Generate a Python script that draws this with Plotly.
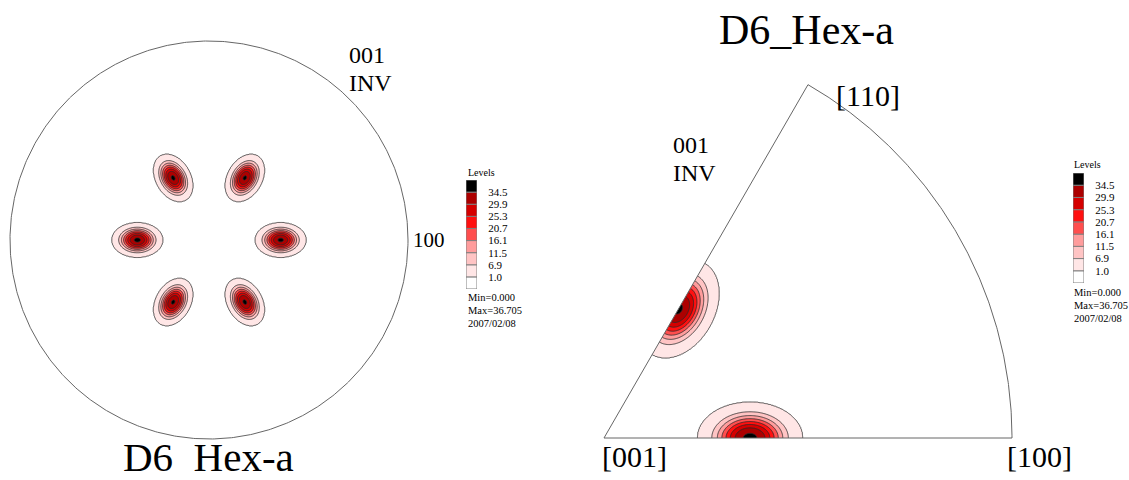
import numpy as np
import plotly.graph_objects as go

W, H = 1129, 480

# ---- data ----
level_values = [1.0, 6.9, 11.5, 16.1, 20.7, 25.3, 29.9, 34.5]
level_labels = ["1.0", "6.9", "11.5", "16.1", "20.7", "25.3", "29.9", "34.5"]
level_colors = ["#FFFFFF", "#FFE6E6", "#FFC4C4", "#FF9C9C", "#FF4E4E",
                "#FF1010", "#D50000", "#AC0000", "#000000"]
density_min = 0.000
density_max = 36.705
date_label = "2007/02/08"

# pole figure (left): peak directions (deg), radial position (fraction of radius), peak heights
pf_peak_angles = [0, 60, 120, 180, 240, 300]
pf_peak_radius = [0.36, 0.36, 0.36, 0.36, 0.36, 0.36]
pf_peak_height = [35.1, 34.9, 35.0, 35.3, 34.9, 35.0]
# inverse pole figure (right): peaks on the [001]-[100] and [001]-[110] edges
ipf_peak_angles = [0, 60]
ipf_peak_radius = [0.358, 0.365]
ipf_peak_height = [35.4, 35.0]
peak_sigma_radial = [0.054]
peak_sigma_tangential = [0.037]
peak_flatness = [1.2]

FONT = "Liberation Serif"


def density(X, Y, angles, radii, heights):
    Z = np.zeros_like(X)
    sr, st, p = peak_sigma_radial[0], peak_sigma_tangential[0], peak_flatness[0]
    for a_deg, r0, h in zip(angles, radii, heights):
        a = np.deg2rad(a_deg)
        cx, cy = r0 * np.cos(a), r0 * np.sin(a)
        dx, dy = X - cx, Y - cy
        dr = dx * np.cos(a) + dy * np.sin(a)
        dt = -dx * np.sin(a) + dy * np.cos(a)
        u = 0.5 * ((dr / sr) ** 2 + (dt / st) ** 2)
        Z += h * np.exp(-(u ** p))
    return Z


def to_level_index(Z):
    # map the uneven contour levels onto 1..8 so that plotly can use a uniform step
    xp = [0.0] + level_values + [density_max + 10]
    fp = list(range(len(level_values) + 1)) + [len(level_values) + (density_max + 10 - level_values[-1]) / 4.6]
    return np.round(np.interp(Z, xp, fp), 3)


colorscale = [[i / 8, c] for i, c in enumerate(level_colors)]
contour_style = dict(
    contours=dict(start=1, end=8, size=1, coloring="fill", showlines=True),
    colorscale=colorscale, showscale=False,
    line=dict(color="#2a2a2a", width=0.8, smoothing=1),
    hoverinfo="skip",
)

fig = go.Figure()

# ---- left: pole figure ----
gx = np.arange(-0.58, 0.5801, 0.004)
GX, GY = np.meshgrid(gx, gx)
Zl = to_level_index(density(GX, GY, pf_peak_angles, pf_peak_radius, pf_peak_height))
fig.add_trace(go.Contour(x=gx, y=gx, z=Zl, xaxis="x", yaxis="y", **contour_style))

th = np.linspace(0, 2 * np.pi, 721)
fig.add_trace(go.Scatter(x=np.cos(th), y=np.sin(th), mode="lines",
                         line=dict(color="#666666", width=1), hoverinfo="skip",
                         xaxis="x", yaxis="y"))

# ---- right: inverse pole figure sector ----
rx = np.arange(-0.06, 0.64, 0.002)
ry = np.arange(-0.1, 0.58, 0.002)
RX, RY = np.meshgrid(rx, ry)
Zr = to_level_index(density(RX, RY, ipf_peak_angles, ipf_peak_radius, ipf_peak_height))
fig.add_trace(go.Contour(x=rx, y=ry, z=Zr, xaxis="x2", yaxis="y2", **contour_style))

t60 = np.tan(np.deg2rad(60))
mask_x = [0, 0.95 / t60, -0.06, -0.06, 1.12, 1.12, 0]
mask_y = [0, 0.95, 0.95, -0.12, -0.12, 0, 0]
fig.add_trace(go.Scatter(x=mask_x, y=mask_y, mode="lines", fill="toself",
                         fillcolor="white", line=dict(width=0, color="white"),
                         hoverinfo="skip", xaxis="x2", yaxis="y2"))

arc = np.linspace(0, np.pi / 3, 200)
sx = np.concatenate([[0.0], np.cos(arc), [0.0]])
sy = np.concatenate([[0.0], np.sin(arc), [0.0]])
fig.add_trace(go.Scatter(x=sx, y=sy, mode="lines", line=dict(color="#666666", width=1),
                         hoverinfo="skip", xaxis="x2", yaxis="y2"))

# ---- level legends (stacked boxes) ----
box_heights = [1] * len(level_colors)
box_bases = list(np.cumsum([0] + box_heights[:-1]))
for xa, ya in (("x3", "y3"), ("x4", "y4")):
    fig.add_trace(go.Bar(x=[0] * len(level_colors), y=box_heights, base=box_bases,
                         width=1, marker=dict(color=level_colors, line=dict(color="#808080", width=1)),
                         hoverinfo="skip", xaxis=xa, yaxis=ya))


def xdom(p0, p1):
    return [p0 / W, p1 / W]


def ydom(ptop, pbot):
    return [1 - pbot / H, 1 - ptop / H]


hidden = dict(visible=False, fixedrange=True)
CXL, CYL, RL = 209, 240, 199
CXR, CYR, RR = 604, 438, 408

legend_axis = dict(range=[0, 9], side="right", tickmode="array",
                   tickvals=list(range(1, 9)), ticktext=level_labels,
                   ticks="outside", ticklen=8, tickcolor="rgba(0,0,0,0)",
                   tickfont=dict(family=FONT, size=11, color="black"),
                   showgrid=False, zeroline=False, showline=False, fixedrange=True)

fig.update_layout(
    width=W, height=H, margin=dict(l=0, r=0, t=0, b=0),
    paper_bgcolor="white", plot_bgcolor="white", showlegend=False,
    barmode="overlay",
    xaxis=dict(domain=xdom(CXL - 1.05 * RL, CXL + 1.05 * RL), range=[-1.05, 1.05], **hidden),
    yaxis=dict(domain=ydom(CYL - 1.2 * RL, CYL + 1.2 * RL), range=[-1.2, 1.2], **hidden),
    xaxis2=dict(domain=xdom(CXR - 0.05 * RR, CXR + 1.1 * RR), range=[-0.05, 1.1], **hidden),
    yaxis2=dict(domain=ydom(CYR - 0.95 * RR, CYR + 0.1 * RR), range=[-0.1, 0.95], **hidden),
    xaxis3=dict(domain=xdom(466, 477), range=[-0.5, 0.5], **hidden),
    yaxis3=dict(domain=ydom(180, 289), anchor="x3", **legend_axis),
    xaxis4=dict(domain=xdom(1073, 1084), range=[-0.5, 0.5], **hidden),
    yaxis4=dict(domain=ydom(173, 283), anchor="x4", **legend_axis),
)


def ann(text, px, py, size, xanchor="left"):
    return dict(text=text, x=px / W, y=1 - py / H, xref="paper", yref="paper",
                xanchor=xanchor, yanchor="middle", showarrow=False,
                font=dict(family=FONT, size=size, color="black"))


annotations = [
    ann("001", 347, 55, 24), ann("INV", 347, 82.5, 24),
    ann("100", 411, 240, 21),
    ann("D6  Hex-a", 208, 457, 41, "center"),
    ann("D6_Hex-a", 806, 30, 42, "center"),
    ann("001", 671, 145, 24), ann("INV", 671, 172.5, 24),
    ann("[110]", 834, 96, 30), ann("[001]", 600, 456, 30), ann("[100]", 1005, 456, 30),
    # left legend texts
    ann("Levels", 466, 173, 10),
    ann("Min=%.3f" % density_min, 466, 297, 10.5),
    ann("Max=%.3f" % density_max, 466, 310, 10.5),
    ann(date_label, 466, 323, 10.5),
    # right legend texts
    ann("Levels", 1072, 164, 10),
    ann("Min=%.3f" % density_min, 1072, 292, 10.5),
    ann("Max=%.3f" % density_max, 1072, 305, 10.5),
    ann(date_label, 1072, 318, 10.5),
]
fig.update_layout(annotations=annotations)

fig.write_html("out.html")
